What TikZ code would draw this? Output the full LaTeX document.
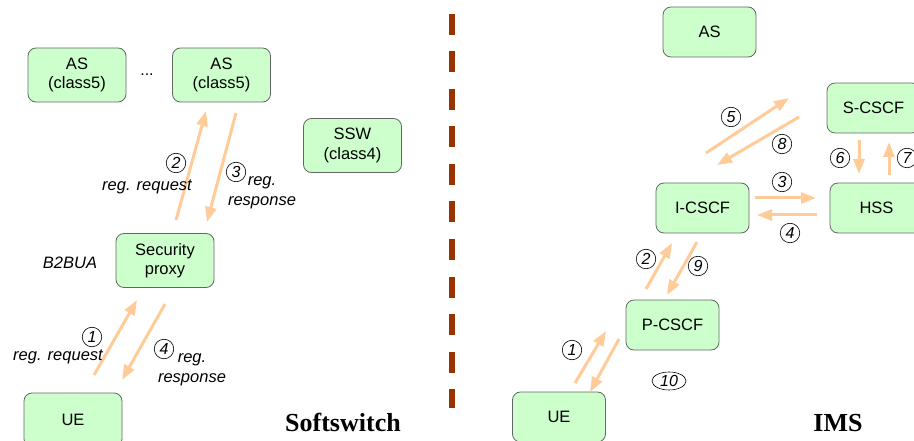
\documentclass[tikz,border=0pt]{standalone}
\usepackage{fontspec}
\setmainfont{Liberation Sans}
\newfontfamily\titlefont{Liberation Serif}
\usetikzlibrary{arrows.meta,shapes.geometric}
\definecolor{boxfill}{HTML}{CCFFCC}
\definecolor{boxline}{HTML}{666666}
\definecolor{arr}{HTML}{FFCC99}
\definecolor{divider}{HTML}{993300}
\begin{document}
\begin{tikzpicture}[x=1pt,y=-1pt,
 box/.style={draw=boxline, fill=boxfill, rounded corners=8pt, line width=0.8pt, align=center, font=\fontsize{16.5}{19.5}\selectfont, inner sep=0pt},
 lbox/.style={box, minimum width=98pt, minimum height=54pt},
 rbox/.style={box, minimum width=93pt, minimum height=50pt},
 msg/.style={draw=arr, line width=3pt, -{Triangle[length=15pt,width=11pt]}},
 num/.style={circle, draw, line width=0.6pt, inner sep=0pt, minimum size=19.5pt, font=\itshape\fontsize{16}{16}\selectfont},
 numell/.style={ellipse, draw, line width=0.6pt, inner sep=0pt, minimum width=34pt, minimum height=18pt, font=\itshape\fontsize{16}{16}\selectfont},
 lab/.style={font=\itshape\fontsize{16.5}{20}\selectfont, align=center, inner sep=0pt},
 titletext/.style={font=\titlefont\bfseries\fontsize{26}{30}\selectfont, inner sep=0pt}]
\clip (0,0) rectangle (914,441);
\fill[white] (0,0) rectangle (914,441);

% divider
\coordinate (dtop) at (452,14);
\coordinate (dbot) at (452,408);
\draw[divider, line width=6pt, dash pattern=on 21pt off 16.5pt] (dtop) -- (dbot);

% ---------- Softswitch side ----------
\node[lbox] (as1) at (77,75) {AS\\(class5)};
\node[lbox] (as2) at (221.5,75) {AS\\(class5)};
\node[font=\fontsize{16}{19}\selectfont] (dots) at (147,75) {...};
\node[lbox] (ssw) at (352.5,145.5) {SSW\\(class4)};
\node[lbox] (sp) at (165,260.5) {Security\\proxy};
\node[lbox] (ue1) at (73,420) {UE};
\node[lab] (b2bua) at (70,263) {B2BUA};
\node[titletext] (soft) at (343,422) {Softswitch};

\coordinate (l2s) at (176,220); \coordinate (l2e) at (206,111);
\coordinate (l3s) at (236,113); \coordinate (l3e) at (207,222);
\coordinate (l1s) at (94,375);  \coordinate (l1e) at (137,300);
\coordinate (l4s) at (165,304); \coordinate (l4e) at (122,380);
\draw[msg] (l2s) -- (l2e);
\draw[msg] (l3s) -- (l3e);
\draw[msg] (l1s) -- (l1e);
\draw[msg] (l4s) -- (l4e);

\node[num] (ln2) at (176,163) {2};
\node[lab] (lt2) at (147,187) {reg. request};
\node[num] (ln3) at (236,172) {3};
\node[lab] (lt3) at (262,193) {reg.\\response};
\node[num] (ln1) at (92,337) {1};
\node[lab] (lt1) at (58,357) {reg. request};
\node[num] (ln4) at (164,349) {4};
\node[lab] (lt4) at (192,370) {reg.\\response};

% ---------- IMS side ----------
\node[rbox] (as) at (709.5,32) {AS};
\node[rbox] (scscf) at (873.5,108) {S-CSCF};
\node[rbox] (icscf) at (702.5,208) {I-CSCF};
\node[rbox] (hss) at (876.5,208) {HSS};
\node[rbox] (pcscf) at (672.5,325) {P-CSCF};
\node[rbox] (ue2) at (559,417) {UE};
\node[titletext] (ims) at (838,423) {IMS};

\coordinate (r5s) at (706,153); \coordinate (r5e) at (789,98);
\coordinate (r8s) at (799,117); \coordinate (r8e) at (717,165);
\coordinate (r6s) at (859,140); \coordinate (r6e) at (859,174);
\coordinate (r7s) at (889,175); \coordinate (r7e) at (889,142);
\coordinate (r3s) at (755,198); \coordinate (r3e) at (816,198);
\coordinate (r4s) at (817,215); \coordinate (r4e) at (757,215);
\coordinate (r2s) at (646,289); \coordinate (r2e) at (672,243);
\coordinate (r9s) at (697,242); \coordinate (r9e) at (667,295);
\coordinate (r1s) at (575,383); \coordinate (r1e) at (606,331);
\coordinate (r10s) at (619,339); \coordinate (r10e) at (590,392);
\draw[msg] (r5s) -- (r5e);
\draw[msg] (r8s) -- (r8e);
\draw[msg] (r6s) -- (r6e);
\draw[msg] (r7s) -- (r7e);
\draw[msg] (r3s) -- (r3e);
\draw[msg] (r4s) -- (r4e);
\draw[msg] (r2s) -- (r2e);
\draw[msg] (r9s) -- (r9e);
\draw[msg] (r1s) -- (r1e);
\draw[msg] (r10s) -- (r10e);

\node[num] (rn5) at (731,117) {5};
\node[num] (rn8) at (782,144) {8};
\node[num] (rn6) at (840,158) {6};
\node[num] (rn7) at (907,158) {7};
\node[num] (rn3) at (782,182) {3};
\node[num] (rn4) at (790,233) {4};
\node[num] (rn2) at (646,259) {2};
\node[num] (rn9) at (698,266) {9};
\node[num] (rn1) at (572,350) {1};
\node[numell] (rn10) at (669,381) {10};
\end{tikzpicture}
\end{document}
